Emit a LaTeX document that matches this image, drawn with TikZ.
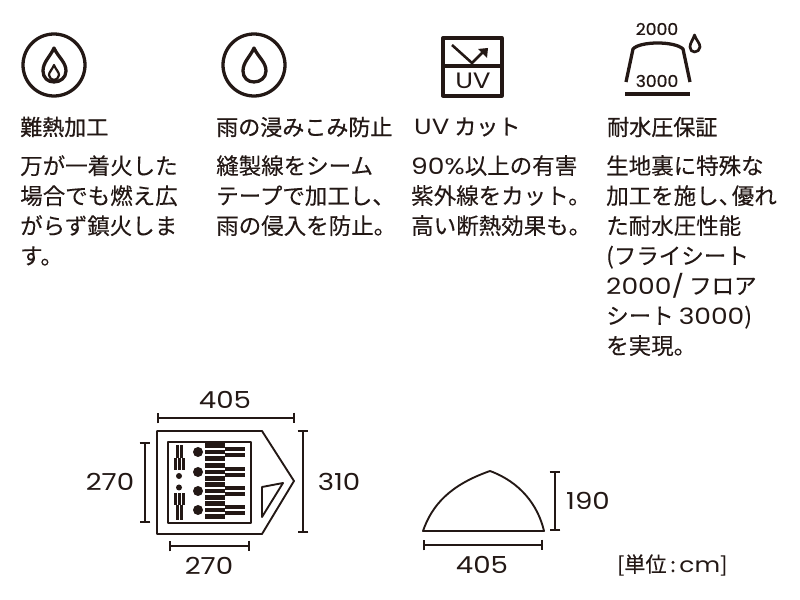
\documentclass[tikz,border=0pt]{standalone}
\usepackage{fontspec}
\usetikzlibrary{arrows.meta}
\setmainfont[FakeBold=0.15]{Noto Sans CJK JP}
\newfontfamily\headfont[FakeBold=0.7]{Noto Sans CJK JP}
\newfontfamily\numfont[FakeStretch=1.18]{Poppins}
\newfontfamily\markfont[FakeStretch=1.05, FakeBold=0.8]{Poppins}
\definecolor{inkdark}{HTML}{231815}
\tikzset{
  bodytext/.style={anchor=north west, align=left, inner sep=0pt, text=inkdark, font=\fontsize{19.2}{25.6}\selectfont},
  headtext/.style={anchor=west, inner sep=0pt, text=inkdark, font=\headfont\fontsize{18.8}{22}\selectfont},
  dimtext/.style={inner sep=0pt, text=inkdark, font=\numfont\fontsize{20}{24}\selectfont},
  icontext/.style={inner sep=0pt, text=inkdark, font=\markfont\fontsize{14}{16}\selectfont},
  dimline/.style={draw=inkdark, line width=1.5pt, {Bar[width=9pt]}-{Bar[width=9pt]}},
  iconline/.style={draw=inkdark, line width=2.8pt},
  planline/.style={draw=inkdark, line width=1.6pt},
  barfill/.style={fill=inkdark},
}
\begin{document}
\begin{tikzpicture}[x=0.03cm, y=-0.03cm, line join=round, font=\footnotesize]
  \useasboundingbox (0,0) rectangle (800,600);
  % icons
  \draw[iconline] (54,65) circle (31);
  \draw[iconline] (54,48) .. controls (50,57) and (43,62) .. (43,71) .. controls (43,78) and (48,82) .. (54,82) .. controls (60,82) and (66,78) .. (66,71) .. controls (66,62) and (58,57) .. (54,48) -- cycle;
  \draw[draw=inkdark, line width=1.9pt] (54,65) .. controls (52,70) and (49,72) .. (49,75) .. controls (49,78) and (52,80) .. (54,80) .. controls (56,80) and (59,78) .. (59,75) .. controls (59,72) and (56,70) .. (54,65) -- cycle;
  \draw[iconline] (254,65) circle (31);
  \draw[iconline] (254,48) .. controls (250,57) and (243,62) .. (243,71) .. controls (243,78) and (248,82) .. (254,82) .. controls (260,82) and (266,78) .. (266,71) .. controls (266,62) and (258,57) .. (254,48) -- cycle;
  % uv
  \draw[iconline] (443,38) rectangle (502,96);
  \draw[iconline] (443,66) -- (502,66);
  \draw[draw=inkdark, line width=2.2pt] (452,45) -- (472,63) -- (484,51);
  \fill[inkdark] (488,48) -- (487,58) -- (478,49) -- cycle;
  \node[icontext, font=\numfont\fontsize{19}{20}\selectfont] (uvmark) at (473,81) {UV};
  % fly and floor
  \node[icontext] (flyval) at (657,29) {2000};
  \node[icontext] (floorval) at (657,81) {3000};
  \draw[iconline] (626,82) -- (633,49) .. controls (640,41) and (675,41) .. (683,49) -- (690,82);
  \draw[iconline] (625,94) -- (690,94);
  \draw[draw=inkdark, line width=2.3pt] (694.5,35) .. controls (693,40) and (690,43) .. (690,47) .. controls (690,50) and (692,52) .. (694.5,52) .. controls (697,52) and (700,50) .. (700,47) .. controls (700,43) and (696,40) .. (694.5,35) -- cycle;
  % headings
  \node[headtext] (headA) at (20,127) {難熱加工};
  \node[headtext] (headB) at (216,127) {雨の浸みこみ防止};
  \node[headtext] (headC) at (414,127) {{\numfont UV} カット};
  \node[headtext] (headD) at (607,127) {耐水圧保証};
  % body
  \node[bodytext] (bodyA) at (20,155) {万が一着火した\\場合でも燃え広\\がらず鎮火しま\\す。};
  \node[bodytext] (bodyB) at (216,155) {縫製線をシーム\\テープで加工し、\\雨の侵入を防止。};
  \node[bodytext] (bodyC) at (411,155) {{\numfont 90\%}以上の有害\\紫外線をカット。\\高い断熱効果も。};
  \node[bodytext] (bodyD) at (606,155) {生地裏に特殊な\\加工を施し、\hspace{-8pt}優れ\\た耐水圧性能\\(フライシート\\{\numfont 2000/} フロア\\シート {\numfont 3000})\\を実現。};
  % plan
  \draw[planline] (157,431) -- (262,431) -- (294,481) -- (262,534) -- (157,534) -- cycle;
  \draw[planline] (168,442) rectangle (251,523);
  \draw[planline] (262,487) -- (283,483) -- (262,517) -- cycle;
  \foreach \cy in {452,472,491,510}{
    \fill[inkdark] (198,\cy) circle (5);
    \path[barfill] (205,\cy-8.8) rectangle (225,\cy-3.8);
    \path[barfill] (205,\cy-2.4) rectangle (225,\cy+2.4);
    \path[barfill] (205,\cy+3.8) rectangle (225,\cy+8.8);
    \path[barfill] (225,\cy-5) rectangle (245,\cy-0.6);
    \path[barfill] (225,\cy+0.6) rectangle (245,\cy+5);
  }
  \foreach \ya/\yb/\yc/\yd in {445/458/458/470,520/505/505/493}{
    \path[barfill] (176,\ya) rectangle (179,\yb);
    \path[barfill] (179.8,\ya) rectangle (183,\yb);
    \path[barfill] (174,\yc) rectangle (177.2,\yd);
    \path[barfill] (178,\yc) rectangle (181,\yd);
    \path[barfill] (181.8,\yc) rectangle (185,\yd);
  }
  \fill[inkdark] (179,476) circle (3);
  \fill[inkdark] (179,487.5) circle (3);
  % side view
  \draw[planline] (423,531) .. controls (432,505) and (450,485) .. (490,471) .. controls (520,482) and (538,505) .. (544,531) -- cycle;
  % dimensions
  \coordinate (topL) at (157,418);
  \coordinate (topR) at (295,418);
  \coordinate (leftT) at (145,442);
  \coordinate (leftB) at (145,523);
  \coordinate (rightT) at (303,430);
  \coordinate (rightB) at (303,533);
  \coordinate (botL) at (169,546);
  \coordinate (botR) at (250,546);
  \coordinate (sideT) at (555,471);
  \coordinate (sideB) at (555,531);
  \coordinate (baseL) at (423,545);
  \coordinate (baseR) at (543,545);
  \draw[dimline] (topL) -- (topR);
  \draw[dimline] (leftT) -- (leftB);
  \draw[dimline] (rightT) -- (rightB);
  \draw[dimline] (botL) -- (botR);
  \draw[dimline] (sideT) -- (sideB);
  \draw[dimline] (baseL) -- (baseR);
  \node[dimtext] (lenTop) at (225,400) {405};
  \node[dimtext] (widLeft) at (110,482) {270};
  \node[dimtext] (widRight) at (339,482) {310};
  \node[dimtext] (lenBot) at (209,566) {270};
  \node[dimtext] (height) at (588,501) {190};
  \node[dimtext] (lenSide) at (482,565) {405};
  \node[inner sep=0pt, text=inkdark, anchor=west, font=\fontsize{18}{20}\selectfont] (unit) at (617,565) {[単位\hspace{3pt}:\hspace{3pt}{\numfont cm}]};
\end{tikzpicture}
\end{document}
